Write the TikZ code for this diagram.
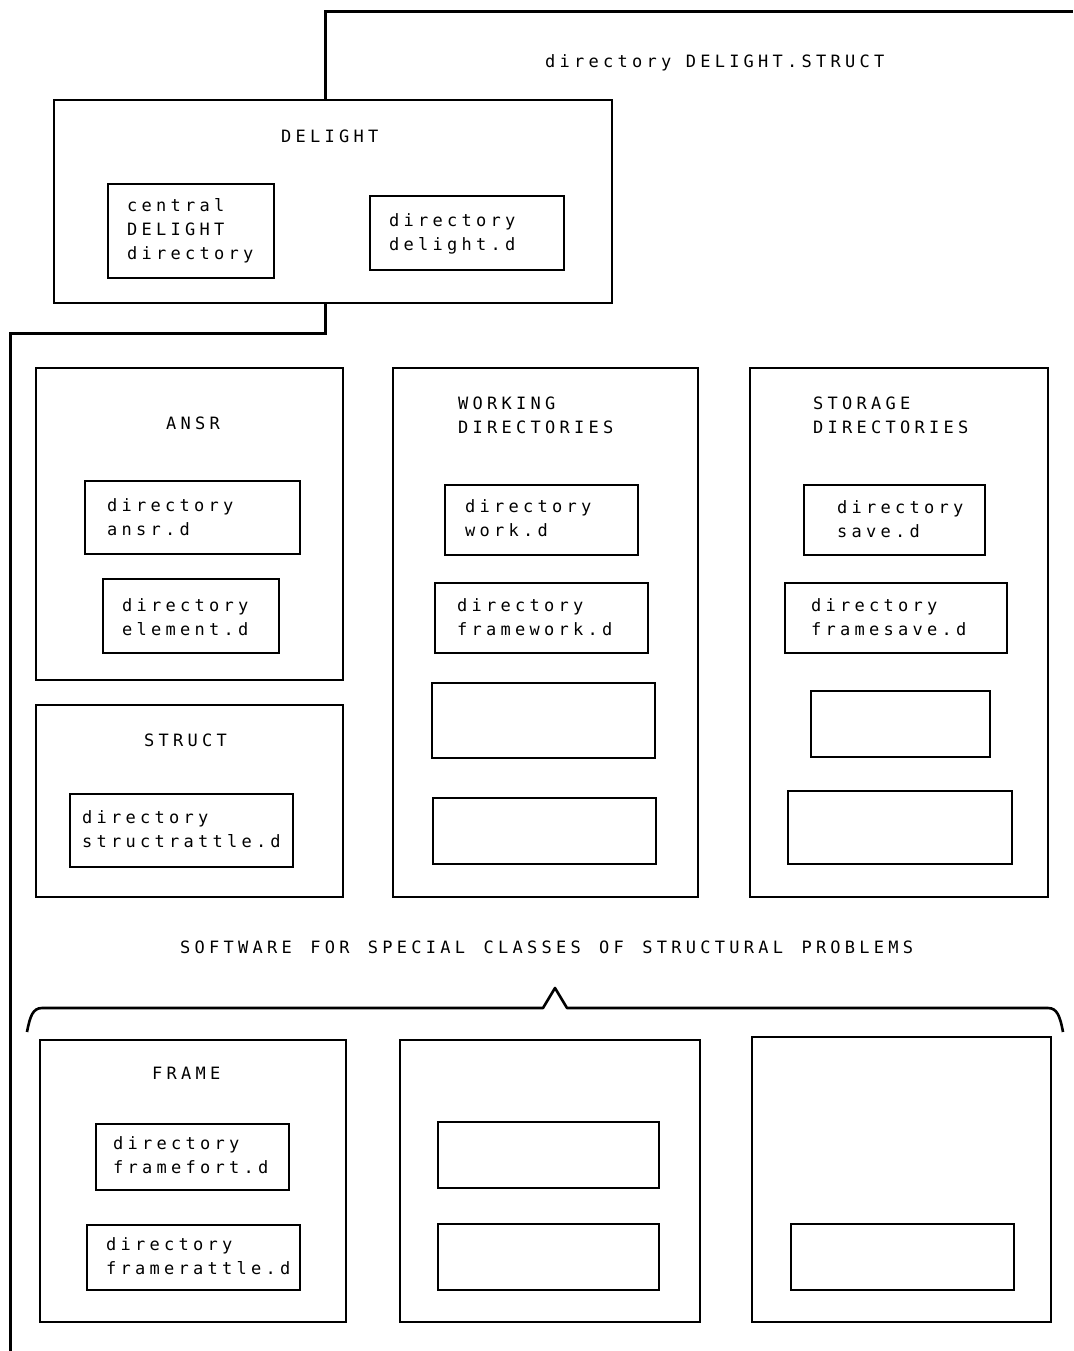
\documentclass[tikz,border=0pt]{standalone}
\usepackage{fontspec}
\newfontfamily\plotfont[LetterSpace=25]{DejaVu Sans Mono}
\usetikzlibrary{fit}
\tikzset{
  obox/.style={draw=black, line width=2.8pt, inner sep=0pt, rectangle},
  ibox/.style={draw=black, line width=2.3pt, inner sep=0pt, rectangle},
  conn/.style={draw=black, line width=3pt, line join=miter},
  brace/.style={draw=black, line width=2.6pt, line join=round},
  txt/.style={font={\plotfont\fontsize{17}{24}\selectfont}, inner sep=0pt, anchor=base west, align=left},
}
\newcommand{\wsp}{\hspace{4pt}}
\begin{document}
\begin{tikzpicture}[x=1pt, y=-1pt]
\fill[white] (0,0) rectangle (1073,1351);
\useasboundingbox (0,0) rectangle (1073,1351);

% ---- DELIGHT ----
\node[obox, fit={(54,100) (612,303)}] (delight) {};
\node[ibox, fit={(108,184) (274,278)}] (central) {};
\node[ibox, fit={(370,196) (564,270)}] (delightd) {};
\node[txt] (tdelight) at (281,143) {DELIGHT};
\node[txt] (tcentral) at (127,259) {central\\DELIGHT\\directory};
\node[txt] (tdelightd) at (389,250) {directory\\delight.d};
\node[txt] (tstructdir) at (545,68) {directory DELIGHT.STRUCT};

% ---- connectors ----
\coordinate (tc) at (325,12);
\coordinate (tr) at (1073,12);
\coordinate (bl) at (10,333);
\coordinate (bb) at (10,1351);
\draw[conn] (delight.north -| tc) -- (tc) -- (tr);
\draw[conn] (delight.south -| tc) |- (bl) -- (bb);

% ---- ANSR ----
\node[obox, fit={(36,368) (343,680)}] (ansr) {};
\node[ibox, fit={(85,481) (300,554)}] (ansrd) {};
\node[ibox, fit={(103,579) (279,653)}] (elemd) {};
\node[txt] (tansr) at (166,429) {ANSR};
\node[txt] (tansrd) at (107,535) {directory\\ansr.d};
\node[txt] (telemd) at (122,635) {directory\\element.d};

% ---- STRUCT ----
\node[obox, fit={(36,705) (343,897)}] (struct) {};
\node[ibox, fit={(70,794) (293,867)}] (srd) {};
\node[txt] (tstruct) at (144,746) {STRUCT};
\node[txt] (tsrd) at (82,847) {directory\\structrattle.d};

% ---- WORKING ----
\node[obox, fit={(393,368) (698,897)}] (work) {};
\node[ibox, fit={(445,485) (638,555)}] (workd) {};
\node[ibox, fit={(435,583) (648,653)}] (fwd) {};
\node[ibox, fit={(432,683) (655,758)}] (we1) {};
\node[ibox, fit={(433,798) (656,864)}] (we2) {};
\node[txt] (twork) at (458,433) {WORKING\\DIRECTORIES};
\node[txt] (tworkd) at (465,536) {directory\\work.d};
\node[txt] (tfwd) at (457,635) {directory\\framework.d};

% ---- STORAGE ----
\node[obox, fit={(750,368) (1048,897)}] (stor) {};
\node[ibox, fit={(804,485) (985,555)}] (saved) {};
\node[ibox, fit={(785,583) (1007,653)}] (fsd) {};
\node[ibox, fit={(811,691) (990,757)}] (se1) {};
\node[ibox, fit={(788,791) (1012,864)}] (se2) {};
\node[txt] (tstor) at (813,433) {STORAGE\\DIRECTORIES};
\node[txt] (tsaved) at (837,537) {directory\\save.d};
\node[txt] (tfsd) at (811,635) {directory\\framesave.d};

% ---- software ----
\node[txt] (tsoft) at (180,953) {SOFTWARE \wsp FOR \wsp SPECIAL \wsp CLASSES \wsp OF \wsp STRUCTURAL \wsp PROBLEMS};
\draw[brace] (27,1032) .. controls (30,1016) and (33,1008) .. (42,1008) -- (543,1008) -- (555,988) -- (567,1008) -- (1048,1008) .. controls (1057,1008) and (1060,1016) .. (1063,1032);

% ---- bottom row ----
\node[obox, fit={(40,1040) (346,1322)}] (frame) {};
\node[ibox, fit={(96,1124) (289,1190)}] (ffd) {};
\node[ibox, fit={(87,1225) (300,1290)}] (frd) {};
\node[txt] (tframe) at (152,1079) {FRAME};
\node[txt] (tffd) at (113,1173) {directory\\framefort.d};
\node[txt] (tfrd) at (106,1274) {directory\\framerattle.d};

\node[obox, fit={(400,1040) (700,1322)}] (mid) {};
\node[ibox, fit={(438,1122) (659,1188)}] (me1) {};
\node[ibox, fit={(438,1224) (659,1290)}] (me2) {};

\node[obox, fit={(752,1037) (1051,1322)}] (rgt) {};
\node[ibox, fit={(791,1224) (1014,1290)}] (re1) {};
\end{tikzpicture}
\end{document}
